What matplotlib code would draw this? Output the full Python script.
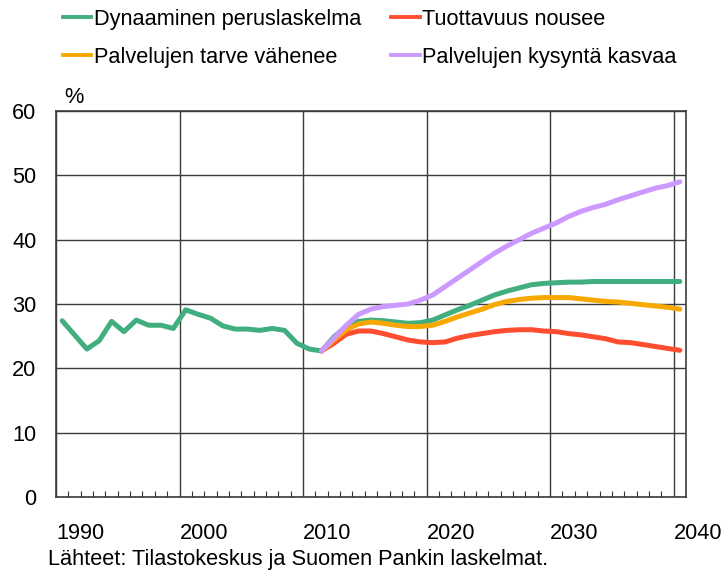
import matplotlib
matplotlib.use("Agg")
import matplotlib.pyplot as plt
from matplotlib.ticker import FixedLocator

plt.rcParams['font.family'] = ['Liberation Sans', 'DejaVu Sans']

years = list(range(1990, 2041))

hist = [27.4, 25.2, 23.0, 24.3, 27.3, 25.7, 27.5, 26.7, 26.7, 26.2, 29.1,
        28.4, 27.8, 26.6, 26.1, 26.1, 25.9, 26.2, 25.9, 23.9, 23.0, 22.7]

base_proj = [24.9, 26.5, 27.3, 27.5, 27.4, 27.2, 27.0, 27.1, 27.5, 28.3,
             29.1, 29.8, 30.6, 31.4, 32.0, 32.5, 33.0, 33.2, 33.3, 33.4,
             33.4, 33.5, 33.5, 33.5, 33.5, 33.5, 33.5, 33.5, 33.5]
prod_proj = [23.9, 25.3, 25.8, 25.8, 25.4, 24.9, 24.4, 24.1, 24.0, 24.1,
             24.7, 25.1, 25.4, 25.7, 25.9, 26.0, 26.0, 25.8, 25.7, 25.4,
             25.2, 24.9, 24.6, 24.1, 24.0, 23.7, 23.4, 23.1, 22.8]
need_proj = [24.4, 26.0, 26.9, 27.2, 27.0, 26.7, 26.5, 26.5, 26.7, 27.3,
             28.0, 28.6, 29.2, 29.9, 30.4, 30.7, 30.9, 31.0, 31.0, 31.0,
             30.8, 30.6, 30.4, 30.3, 30.1, 29.9, 29.7, 29.5, 29.2]
dem_proj = [24.7, 26.7, 28.4, 29.2, 29.6, 29.8, 30.0, 30.6, 31.4, 32.7,
            34.0, 35.3, 36.6, 37.9, 39.0, 40.0, 41.0, 41.8, 42.6, 43.6,
            44.4, 45.0, 45.5, 46.2, 46.8, 47.4, 48.0, 48.4, 49.0]

labels = ["Dynaaminen peruslaskelma", "Tuottavuus nousee",
          "Palvelujen tarve vähenee", "Palvelujen kysyntä kasvaa"]
colors = ["#40AE7E", "#FF4D30", "#F8A800", "#CC99FF"]

x_tick_labels = ["1990", "2000", "2010", "2020", "2030", "2040"]
y_ticks = [0, 10, 20, 30, 40, 50, 60]

start = len(hist) - 1
green = hist + base_proj
proj_years = years[start:]
red = [hist[-1]] + prod_proj
orange = [hist[-1]] + need_proj
purple = [hist[-1]] + dem_proj

FS = 15.7
W, H = 722, 571
fig = plt.figure(figsize=(W / 100, H / 100), dpi=100)
ax = fig.add_axes([56 / W, (H - 497) / H, 630 / W, 386 / H])

lw = 3.6
l_green, = ax.plot(years, green, color=colors[0], lw=lw, solid_capstyle='round', zorder=3)
l_red, = ax.plot(proj_years, red, color=colors[1], lw=lw, solid_capstyle='round', zorder=4)
l_orange, = ax.plot(proj_years, orange, color=colors[2], lw=lw, solid_capstyle='round', zorder=5)
l_purple, = ax.plot(proj_years, purple, color=colors[3], lw=lw, solid_capstyle='round', zorder=6)

ax.set_xlim(years[0] - 0.5, years[-1] + 0.5)
ax.set_ylim(0, 60)

major = [int(t) - 0.5 for t in x_tick_labels]
ax.xaxis.set_major_locator(FixedLocator(major))
ax.set_xticklabels(x_tick_labels, ha='left')
ax.xaxis.set_minor_locator(FixedLocator([y + 0.5 for y in years[:-1]]))
ax.tick_params(axis='x', which='major', length=0, pad=18.5, labelsize=FS)
ax.tick_params(axis='x', which='minor', direction='in', length=4, width=0.8, color='#333333')
ax.set_yticks(y_ticks)
ax.tick_params(axis='y', length=0, pad=14, labelsize=FS)

gcol = '#3c3c3c'
ax.grid(True, which='major', color=gcol, lw=1.0, zorder=1)
ax.set_axisbelow(True)
for s in ax.spines.values():
    s.set_color(gcol)
    s.set_linewidth(1.2)

ax.annotate('%', xy=(0, 1), xycoords='axes fraction', xytext=(6, 2),
            textcoords='offset points', ha='left', va='bottom', fontsize=FS)

fig.text(48 / W, 1 - 559 / H, "Lähteet: Tilastokeskus ja Suomen Pankin laskelmat.",
         ha='left', va='center', fontsize=FS)

leg_handles = [plt.Line2D([], [], color=c, lw=2.8) for c in
               (colors[0], colors[2], colors[1], colors[3])]
fig.legend(leg_handles,
           [labels[0], labels[2], labels[1], labels[3]],
           ncol=2, loc='upper left', bbox_to_anchor=(63 / W, 1 - 9 / H),
           frameon=False, fontsize=FS, handlelength=1.3, handletextpad=0.1,
           columnspacing=1.4, borderpad=0, borderaxespad=0, labelspacing=0.76)

fig.savefig("out.png", dpi=100)
